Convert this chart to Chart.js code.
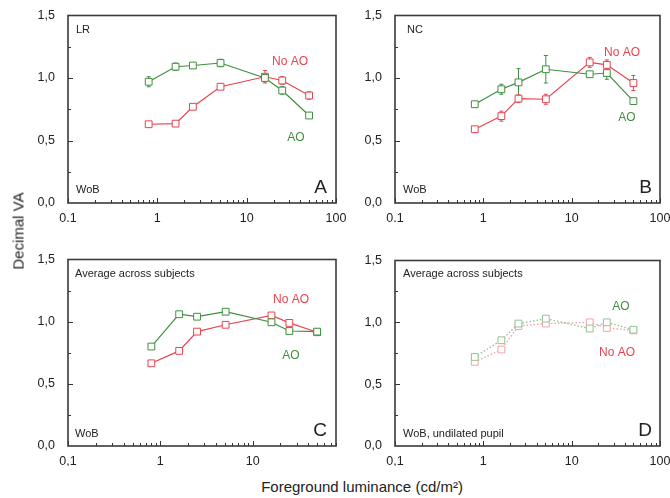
<!DOCTYPE html>
<html>
<head>
<meta charset="utf-8">
<script src="https://cdn.jsdelivr.net/npm/chart.js@4"></script>
<style>
  body { margin: 0; background: #fff; font-family: "Liberation Sans", Arial, sans-serif; }
  #page { position: relative; width: 670px; height: 498px; overflow: hidden; background: #fff; }
  .panel { position: absolute; }
  #ytitle { position: absolute; left: 18px; top: 231px; transform: translate(-50%, -50%) rotate(-90deg);
            font-size: 15px; color: #222; white-space: nowrap; }
  #xtitle { position: absolute; left: 362px; top: 486px; transform: translate(-50%, -50%);
            font-size: 15px; color: #222; white-space: nowrap; }
</style>
</head>
<body>
<div id="page">
  <div class="panel" id="pA"><canvas id="cA"></canvas></div>
  <div class="panel" id="pB"><canvas id="cB"></canvas></div>
  <div class="panel" id="pC"><canvas id="cC"></canvas></div>
  <div class="panel" id="pD"><canvas id="cD"></canvas></div>
  <div id="ytitle">Decimal VA</div>
  <div id="xtitle">Foreground luminance (cd/m²)</div>
</div>
<script>
// foreground luminance levels (cd/m2), shared by all panels
const luminance = [0.8, 1.6, 2.5, 5.1, 16, 25, 50];

// A - subject LR
const lrAO      = [0.97, 1.09, 1.10, 1.12, 1.00, 0.90, 0.70];
const lrAOErr   = [0.04, 0.03, 0.01, 0.03, 0.03, 0.03, 0.02];
const lrNoAO    = [0.63, 0.635, 0.77, 0.93, 1.01, 0.98, 0.86];
const lrNoAOErr = [0.01, 0.02, 0.01, 0.02, 0.05, 0.03, 0.03];

// B - subject NC
const ncAO      = [0.79, 0.91, 0.965, 1.07, 1.03, 1.04, 0.815];
const ncAOErr   = [0.01, 0.04, 0.11, 0.11, 0.02, 0.05, 0.02];
const ncNoAO    = [0.59, 0.695, 0.835, 0.83, 1.125, 1.105, 0.96];
const ncNoAOErr = [0.02, 0.04, 0.03, 0.04, 0.04, 0.04, 0.06];

// C - average across subjects
const avgAO   = [0.80, 1.06, 1.04, 1.08, 0.995, 0.925, 0.92];
const avgNoAO = [0.665, 0.765, 0.92, 0.975, 1.05, 0.99, 0.915];

// D - average across subjects, undilated pupil
const undilAO   = [0.72, 0.855, 0.99, 1.03, 0.95, 1.0, 0.94];
const undilNoAO = [0.68, 0.78, 0.97, 0.99, 1.0, 0.955, 0.935];

// tick labels
const xTickValues = [0.1, 1, 10, 100];
const xTickLabelsDot = ['0.1', '1', '10', '100'];
const xTickLabelsComma = ['0,1', '1', '10', '100'];
const yTickValues = [0, 0.5, 1, 1.5];
const yTickLabels = ['0,0', '0,5', '1,0', '1,5'];

const GREEN = '#3f8f3f', RED = '#e8434f';
const GREEN_PALE = '#93c493', RED_PALE = '#f2a3aa';
const FONT = '"Liberation Sans", Arial, sans-serif';

// left / y-axis width, right padding, top padding, x-axis height
const Y_W = 48, PAD_R = 14, PAD_T = 12, X_H = 20;

function framePlugin(spec) {
    return {
        id: 'frame' + spec.id,
        beforeDatasetsDraw(chart) {
            if (!spec.errors) return;
            const ctx = chart.ctx, x = chart.scales.x, y = chart.scales.y;
            ctx.save();
            ctx.lineWidth = 1;
            spec.errors.forEach(function (err, di) {
                const ds = chart.data.datasets[di];
                ctx.strokeStyle = ds.borderColor;
                err.forEach(function (e, i) {
                    const px = x.getPixelForValue(luminance[i]);
                    const v = ds.data[i];
                    const top = y.getPixelForValue(v + e), bot = y.getPixelForValue(v - e);
                    ctx.beginPath();
                    ctx.moveTo(px, top); ctx.lineTo(px, bot);
                    ctx.moveTo(px - 2, top); ctx.lineTo(px + 2, top);
                    ctx.moveTo(px - 2, bot); ctx.lineTo(px + 2, bot);
                    ctx.stroke();
                });
            });
            ctx.restore();
        },
        afterDraw(chart) {
            const ctx = chart.ctx, a = chart.chartArea;
            const x = chart.scales.x, y = chart.scales.y;
            ctx.save();
            // tick marks inside the frame
            ctx.strokeStyle = '#333';
            ctx.lineWidth = 1;
            ctx.beginPath();
            for (let d = -1; d <= 2; d++) {
                for (let k = 1; k <= 9; k++) {
                    const v = k * Math.pow(10, d);
                    if (v < x.min - 1e-9 || v > x.max + 1e-9) continue;
                    const px = Math.round(x.getPixelForValue(v)) + 0.5;
                    const len = k === 1 ? 5 : 3;
                    ctx.moveTo(px, a.bottom); ctx.lineTo(px, a.bottom - len);
                }
            }
            for (let v = 0.25; v < 1.5; v += 0.25) {
                const py = Math.round(y.getPixelForValue(v)) + 0.5;
                const len = Math.abs(v % 0.5) < 1e-9 ? 5 : 3;
                ctx.moveTo(a.left, py); ctx.lineTo(a.left + len, py);
            }
            ctx.stroke();
            // frame
            ctx.strokeStyle = '#3a3a3a';
            ctx.lineWidth = 1.6;
            ctx.strokeRect(a.left, a.top, a.right - a.left, a.bottom - a.top);
            // panel texts
            ctx.textBaseline = 'middle';
            spec.notes.forEach(function (n) {
                ctx.font = n.size + 'px ' + FONT;
                ctx.fillStyle = n.color || '#222';
                ctx.textAlign = n.align || 'left';
                const px = n.fromRight ? a.right - n.dx : a.left + n.dx;
                const py = n.fromBottom ? a.bottom - n.dy : a.top + n.dy;
                ctx.fillText(n.text, px, py);
            });
            ctx.restore();
        }
    };
}

function makePanel(spec) {
    const box = document.getElementById('p' + spec.id);
    const w = spec.area.r - spec.area.l + Y_W + PAD_R;
    const h = spec.area.b - spec.area.t + PAD_T + X_H;
    box.style.left = (spec.area.l - Y_W) + 'px';
    box.style.top = (spec.area.t - PAD_T) + 'px';
    box.style.width = w + 'px';
    box.style.height = h + 'px';
    const canvas = document.getElementById('c' + spec.id);
    canvas.width = w; canvas.height = h;

    const datasets = spec.series.map(function (s) {
        return {
            label: s.label,
            data: s.data,
            borderColor: s.color,
            backgroundColor: '#fff',
            pointBorderColor: s.color,
            pointBackgroundColor: '#fff',
            pointStyle: 'rect',
            pointRadius: 4.8,
            pointBorderWidth: 1,
            borderWidth: s.dash ? 1.4 : 1.2,
            borderDash: s.dash || [],
            tension: 0,
            fill: false,
        };
    });

    new Chart(canvas, {
        type: 'line',
        data: { labels: luminance, datasets: datasets },
        options: {
            responsive: false,
            animation: false,
            events: [],
            layout: { autoPadding: false, padding: { left: 0, right: PAD_R, top: PAD_T, bottom: 0 } },
            plugins: { legend: { display: false }, tooltip: { enabled: false } },
            scales: {
                x: {
                    type: 'logarithmic',
                    min: 0.1,
                    max: spec.xMax,
                    grid: { display: false },
                    border: { display: false },
                    afterBuildTicks: function (scale) {
                        scale.ticks = xTickValues.filter(function (v) { return v <= spec.xMax; })
                            .map(function (v) { return { value: v }; });
                    },
                    afterFit: function (scale) { scale.height = X_H; },
                    ticks: {
                        autoSkip: false, maxRotation: 0, padding: 0,
                        color: '#222', font: { family: FONT, size: 12.5 },
                        callback: function (v) { return spec.xLabels[xTickValues.indexOf(v)]; },
                    },
                },
                y: {
                    min: 0, max: 1.5,
                    grid: { display: false },
                    border: { display: false },
                    afterBuildTicks: function (scale) {
                        scale.ticks = yTickValues.map(function (v) { return { value: v }; });
                    },
                    afterFit: function (scale) { scale.width = Y_W; },
                    ticks: {
                        padding: 5,
                        color: '#222', font: { family: FONT, size: 12.5 },
                        callback: function (v) { return yTickLabels[yTickValues.indexOf(v)]; },
                    },
                },
            },
        },
        plugins: [framePlugin(spec)],
    });
}

makePanel({
    id: 'A', area: { l: 68, t: 15, r: 336, b: 203 }, xMax: 100, xLabels: xTickLabelsDot,
    series: [
        { label: 'AO', data: lrAO, color: GREEN },
        { label: 'No AO', data: lrNoAO, color: RED },
    ],
    errors: [lrAOErr, lrNoAOErr],
    notes: [
        { text: 'LR', dx: 8, dy: 14, size: 11 },
        { text: 'WoB', dx: 8, dy: 13, fromBottom: true, size: 11 },
        { text: 'A', dx: 9, dy: 15, fromRight: true, fromBottom: true, align: 'right', size: 19 },
        { text: 'No AO', dx: 222, dy: 46, align: 'center', color: RED, size: 12 },
        { text: 'AO', dx: 228, dy: 122, align: 'center', color: GREEN, size: 12 },
    ],
});

makePanel({
    id: 'B', area: { l: 395, t: 15, r: 660, b: 203 }, xMax: 100, xLabels: xTickLabelsDot,
    series: [
        { label: 'AO', data: ncAO, color: GREEN },
        { label: 'No AO', data: ncNoAO, color: RED },
    ],
    errors: [ncAOErr, ncNoAOErr],
    notes: [
        { text: 'NC', dx: 12, dy: 14, size: 11 },
        { text: 'WoB', dx: 8, dy: 13, fromBottom: true, size: 11 },
        { text: 'B', dx: 8, dy: 15, fromRight: true, fromBottom: true, align: 'right', size: 19 },
        { text: 'No AO', dx: 227, dy: 37, align: 'center', color: RED, size: 12 },
        { text: 'AO', dx: 232, dy: 102, align: 'center', color: GREEN, size: 12 },
    ],
});

makePanel({
    id: 'C', area: { l: 68, t: 259, r: 336, b: 446 }, xMax: 80, xLabels: xTickLabelsComma,
    series: [
        { label: 'AO', data: avgAO, color: GREEN },
        { label: 'No AO', data: avgNoAO, color: RED },
    ],
    notes: [
        { text: 'Average across subjects', dx: 7, dy: 14, size: 11 },
        { text: 'WoB', dx: 7, dy: 12, fromBottom: true, size: 11 },
        { text: 'C', dx: 9, dy: 15, fromRight: true, fromBottom: true, align: 'right', size: 19 },
        { text: 'No AO', dx: 223, dy: 40, align: 'center', color: RED, size: 12 },
        { text: 'AO', dx: 223, dy: 96, align: 'center', color: GREEN, size: 12 },
    ],
});

makePanel({
    id: 'D', area: { l: 395, t: 260, r: 660, b: 446 }, xMax: 100, xLabels: xTickLabelsComma,
    series: [
        { label: 'AO', data: undilAO, color: GREEN_PALE, dash: [1.5, 2] },
        { label: 'No AO', data: undilNoAO, color: RED_PALE, dash: [1.5, 2] },
    ],
    notes: [
        { text: 'Average across subjects', dx: 8, dy: 13, size: 11 },
        { text: 'WoB, undilated pupil', dx: 8, dy: 12, fromBottom: true, size: 11 },
        { text: 'D', dx: 8, dy: 15, fromRight: true, fromBottom: true, align: 'right', size: 19 },
        { text: 'AO', dx: 226, dy: 46, align: 'center', color: GREEN, size: 12 },
        { text: 'No AO', dx: 222, dy: 92, align: 'center', color: RED, size: 12 },
    ],
});
</script>
</body>
</html>
